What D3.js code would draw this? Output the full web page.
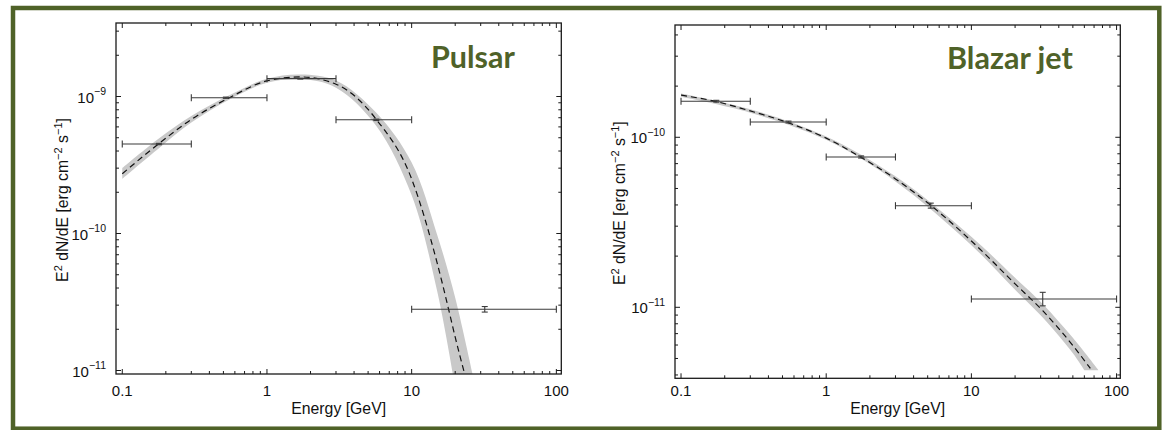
<!DOCTYPE html>
<html><head><meta charset="utf-8">
<script src="https://cdn.jsdelivr.net/npm/d3@7"></script>
<style>body{margin:0;background:#fff;} svg{display:block;}</style>
</head><body>
<script>
// ---------------- data ----------------
const binLo = [0.1, 0.3, 1, 3, 10];
const binHi = [0.3, 1, 3, 10, 100];
const xTickLabels = ["0.1", "1", "10", "100"];

// Pulsar
const pulsarE      = [0.179, 0.52, 1.7, 5.7, 32];
const pulsarFlux   = [4.5e-10, 9.8e-10, 1.35e-9, 6.76e-10, 2.8e-11];
const pulsarFluxLo = [4.45e-10, 9.7e-10, 1.34e-9, 6.68e-10, 2.67e-11];
const pulsarFluxHi = [4.55e-10, 9.9e-10, 1.36e-9, 6.84e-10, 2.93e-11];
const pulsarFitE   = [0.1, 0.18, 0.3, 0.55, 1, 1.7, 3, 5.7, 10, 15, 18, 20, 23.2];
const pulsarFit    = [2.73e-10, 4.55e-10, 6.8e-10, 9.8e-10, 1.30e-9, 1.39e-9, 1.23e-9, 6.8e-10, 2.5e-10, 6.1e-11, 2.8e-11, 1.75e-11, 0.95e-11];
const pulsarBandUpE = [0.1, 0.18, 0.3, 0.55, 1, 1.7, 3, 5.7, 10, 15, 20, 26.6];
const pulsarBandUp  = [3.0e-10, 4.95e-10, 7.2e-10, 1.02e-9, 1.35e-9, 1.45e-9, 1.31e-9, 7.6e-10, 3.3e-10, 9.8e-11, 3.4e-11, 0.9e-11];
const pulsarBandLoE = [0.1, 0.18, 0.3, 0.55, 1, 1.7, 3, 5.7, 10, 15, 19.4];
const pulsarBandLo  = [2.5e-10, 4.2e-10, 6.45e-10, 0.95e-9, 1.26e-9, 1.34e-9, 1.16e-9, 6.1e-10, 1.9e-10, 3.8e-11, 0.9e-11];

// Blazar jet
const blazarE      = [0.175, 0.55, 1.74, 5.25, 31];
const blazarFlux   = [1.63e-10, 1.23e-10, 7.66e-11, 3.96e-11, 1.12e-11];
const blazarFluxLo = [1.61e-10, 1.215e-10, 7.55e-11, 3.83e-11, 1.02e-11];
const blazarFluxHi = [1.65e-10, 1.245e-10, 7.77e-11, 4.1e-11, 1.225e-11];
const blazarFitE   = [0.1, 0.175, 0.3, 0.55, 1, 1.74, 3, 5.25, 10, 20, 31, 50, 66];
const blazarFit    = [1.77e-10, 1.622e-10, 1.429e-10, 1.216e-10, 0.989e-10, 7.62e-11, 5.69e-11, 3.98e-11, 2.455e-11, 1.374e-11, 9.55e-12, 5.96e-12, 4.37e-12];
const blazarBandUpE = [0.1, 0.3, 1, 3, 10, 20, 31, 50, 75];
const blazarBandUp  = [1.81e-10, 1.462e-10, 1.012e-10, 5.89e-11, 2.60e-11, 1.49e-11, 1.047e-11, 6.61e-12, 4.27e-12];
const blazarBandLoE = [0.1, 0.3, 1, 3, 10, 20, 31, 50, 60];
const blazarBandLo  = [1.73e-10, 1.396e-10, 0.966e-10, 5.5e-11, 2.32e-11, 1.268e-11, 8.71e-12, 5.37e-12, 4.27e-12];

// ---------------- layout ----------------
const W = 1166, H = 430;
const GREEN = "#4f6228";
const svg = d3.select("body").append("svg").attr("width", W).attr("height", H);
svg.append("rect").attr("x", 13).attr("y", 8).attr("width", 1146.3).attr("height", 420.7)
  .attr("fill", "none").attr("stroke", GREEN).attr("stroke-width", 4.5);

const panels = [
  { id: "p1", title: "Pulsar", titleX: 431, titleY: 68,
    x0: 116, x1: 561.3, y0: 23, y1: 374,
    xDom: [0.0905, 108.2], yDom: [9.43e-12, 3.44e-9], yTitleX: 68,
    E: pulsarE, F: pulsarFlux, Flo: pulsarFluxLo, Fhi: pulsarFluxHi,
    fitE: pulsarFitE, fit: pulsarFit,
    upE: pulsarBandUpE, up: pulsarBandUp, loE: pulsarBandLoE, lo: pulsarBandLo },
  { id: "p2", title: "Blazar jet", titleX: 947, titleY: 69,
    x0: 675, x1: 1120.3, y0: 25, y1: 378.3,
    xDom: [0.0909, 106.1], yDom: [3.823e-12, 4.576e-10], yTitleX: 625,
    E: blazarE, F: blazarFlux, Flo: blazarFluxLo, Fhi: blazarFluxHi,
    fitE: blazarFitE, fit: blazarFit,
    upE: blazarBandUpE, up: blazarBandUp, loE: blazarBandLoE, lo: blazarBandLo }
];

const FONT = "'Liberation Sans', Arial, Helvetica, sans-serif";
const defs = svg.append("defs");

panels.forEach(p => {
  const xs = d3.scaleLog().domain(p.xDom).range([p.x0, p.x1]);
  const ys = d3.scaleLog().domain(p.yDom).range([p.y1, p.y0]);
  const g = svg.append("g");

  defs.append("clipPath").attr("id", "clip-" + p.id).append("rect")
    .attr("x", p.x0).attr("y", p.y0).attr("width", p.x1 - p.x0).attr("height", p.y1 - p.y0);
  const plot = g.append("g").attr("clip-path", `url(#clip-${p.id})`);

  // band
  const lineCR = d3.line().x(d => xs(d[0])).y(d => ys(d[1])).curve(d3.curveCatmullRom.alpha(0.5));
  const upPts = p.upE.map((e, i) => [e, p.up[i]]);
  const loPts = p.loE.map((e, i) => [e, p.lo[i]]).reverse();
  const bandPath = lineCR(upPts) + "L" + lineCR(loPts).slice(1) + "Z";
  plot.append("path").attr("d", bandPath).attr("fill", "#c9c9c9").attr("stroke", "none");

  // fit line
  const fitPts = p.fitE.map((e, i) => [e, p.fit[i]]);
  plot.append("path").attr("d", d3.line().x(d => xs(d[0])).y(d => ys(d[1])).curve(d3.curveMonotoneX)(fitPts))
    .attr("fill", "none").attr("stroke", "#111").attr("stroke-width", 1.2).attr("stroke-dasharray", "6,4");

  // data error bars
  const eb = g.append("g").attr("stroke", "#3a3a3a").attr("stroke-width", 1.1).attr("fill", "none");
  p.E.forEach((e, i) => {
    const y = ys(p.F[i]), xa = xs(binLo[i]), xb = xs(binHi[i]), xc = xs(e);
    eb.append("line").attr("x1", xa).attr("x2", xb).attr("y1", y).attr("y2", y);
    eb.append("line").attr("x1", xa).attr("x2", xa).attr("y1", y - 3.5).attr("y2", y + 3.5);
    eb.append("line").attr("x1", xb).attr("x2", xb).attr("y1", y - 3.5).attr("y2", y + 3.5);
    const yl = ys(p.Flo[i]), yh = ys(p.Fhi[i]);
    eb.append("line").attr("x1", xc).attr("x2", xc).attr("y1", yl).attr("y2", yh);
    eb.append("line").attr("x1", xc - 3).attr("x2", xc + 3).attr("y1", yl).attr("y2", yl);
    eb.append("line").attr("x1", xc - 3).attr("x2", xc + 3).attr("y1", yh).attr("y2", yh);
  });

  // frame
  g.append("rect").attr("x", p.x0).attr("y", p.y0).attr("width", p.x1 - p.x0).attr("height", p.y1 - p.y0)
    .attr("fill", "none").attr("stroke", "#1a1a1a").attr("stroke-width", 1.3);

  const isMajor = v => Math.abs(Math.log10(v) - Math.round(Math.log10(v))) < 1e-6;
  const tk = g.append("g").attr("stroke", "#1a1a1a").attr("stroke-width", 1);
  xs.ticks().forEach(v => {
    const x = xs(v), L = isMajor(v) ? 5 : 3;
    tk.append("line").attr("x1", x).attr("x2", x).attr("y1", p.y1).attr("y2", p.y1 - L);
    tk.append("line").attr("x1", x).attr("x2", x).attr("y1", p.y0).attr("y2", p.y0 + L);
  });
  ys.ticks().forEach(v => {
    const y = ys(v), L = isMajor(v) ? 5 : 3;
    tk.append("line").attr("x1", p.x0).attr("x2", p.x0 + L).attr("y1", y).attr("y2", y);
    tk.append("line").attr("x1", p.x1).attr("x2", p.x1 - L).attr("y1", y).attr("y2", y);
  });

  // x tick labels
  const xMaj = xs.ticks().filter(isMajor);
  xMaj.forEach((v, i) => {
    g.append("text").attr("x", xs(v)).attr("y", 395.5).attr("text-anchor", "middle")
      .attr("font-family", FONT).attr("font-size", 15).attr("fill", "#111").text(xTickLabels[i]);
  });
  // y tick labels
  ys.ticks().filter(isMajor).forEach(v => {
    const t = g.append("text").attr("x", p.x0 - 10).attr("y", ys(v) + 6).attr("text-anchor", "end")
      .attr("font-family", FONT).attr("font-size", 15).attr("fill", "#111");
    t.append("tspan").text("10");
    t.append("tspan").attr("dy", -7.5).attr("font-size", 10.5).text("\u2212" + Math.abs(Math.round(Math.log10(v))));
  });

  // axis titles
  g.append("text").attr("x", (p.x0 + p.x1) / 2).attr("y", 413.5).attr("text-anchor", "middle")
    .attr("font-family", FONT).attr("font-size", 15.8).attr("fill", "#111").text("Energy [GeV]");
  const yt = g.append("text").attr("transform", `translate(${p.yTitleX},${(p.y0 + p.y1) / 2 + 1.5}) rotate(-90)`)
    .attr("text-anchor", "middle").attr("font-family", FONT).attr("font-size", 15.8).attr("fill", "#111");
  yt.append("tspan").text("E");
  yt.append("tspan").attr("dy", -6.5).attr("font-size", 11).text("2");
  yt.append("tspan").attr("dy", 6.5).text(" dN/dE [erg cm");
  yt.append("tspan").attr("dy", -6.5).attr("font-size", 11).text("\u22122");
  yt.append("tspan").attr("dy", 6.5).text(" s");
  yt.append("tspan").attr("dy", -6.5).attr("font-size", 11).text("\u22121");
  yt.append("tspan").attr("dy", 6.5).text("]");

  // panel title
  g.append("text").attr("x", p.titleX).attr("y", p.titleY)
    .attr("font-family", "Lato, 'Open Sans', sans-serif").attr("font-weight", "bold").attr("font-size", 30.5)
    .attr("fill", GREEN).text(p.title);
});
</script>
</body></html>
